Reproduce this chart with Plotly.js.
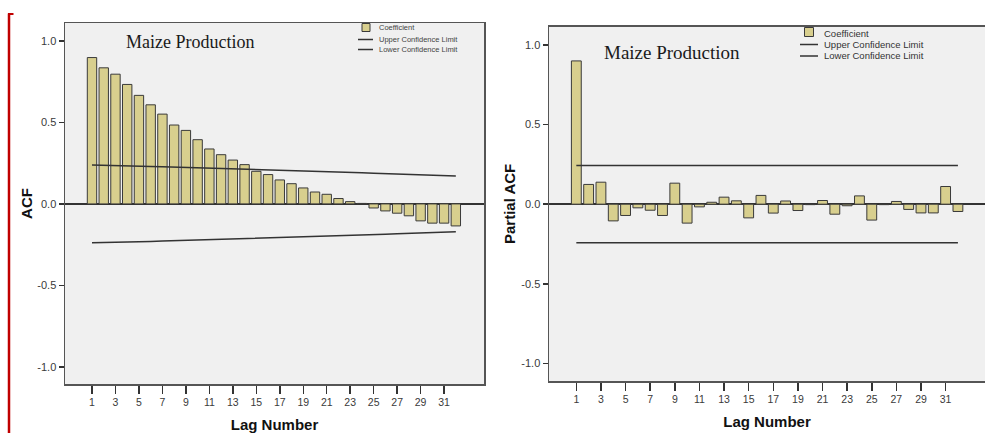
<!DOCTYPE html>
<html>
<head>
<meta charset="utf-8">
<script src="https://cdn.plot.ly/plotly-3.0.1.min.js"></script>
<style>
  html, body { margin: 0; padding: 0; background: #ffffff; }
  #chart { width: 985px; height: 433px; }
</style>
</head>
<body>
<div id="chart"></div>
<script>
// ---- Data ----
const lags = [1,2,3,4,5,6,7,8,9,10,11,12,13,14,15,16,17,18,19,20,21,22,23,24,25,26,27,28,29,30,31,32];
const lagTicks = [1,3,5,7,9,11,13,15,17,19,21,23,25,27,29,31];
const yTicks = [-1.0,-0.5,0.0,0.5,1.0];
const yTickLabels = ['-1.0','-0.5','0.0','0.5','1.0'];

const acf = [0.898,0.835,0.796,0.733,0.666,0.608,0.551,0.484,0.451,0.394,0.337,0.302,0.269,0.241,0.200,0.180,
             0.147,0.124,0.098,0.073,0.059,0.033,0.014,0.003,-0.025,-0.043,-0.057,-0.073,-0.104,-0.118,-0.118,-0.135];
const acfUpper = [0.239,0.238,0.236,0.234,0.232,0.230,0.228,0.226,0.224,0.222,0.220,0.218,0.215,0.213,0.211,0.209,
                  0.207,0.205,0.202,0.200,0.198,0.195,0.193,0.191,0.188,0.186,0.183,0.181,0.178,0.176,0.173,0.171];
const acfLower = [-0.239,-0.238,-0.236,-0.234,-0.232,-0.230,-0.228,-0.226,-0.224,-0.222,-0.220,-0.218,-0.215,-0.213,-0.211,-0.209,
                  -0.207,-0.205,-0.202,-0.200,-0.198,-0.195,-0.193,-0.191,-0.188,-0.186,-0.183,-0.181,-0.178,-0.176,-0.173,-0.171];

const pacf = [0.900,0.124,0.138,-0.105,-0.071,-0.023,-0.038,-0.071,0.132,-0.119,-0.017,0.012,0.044,0.021,-0.086,0.055,
              -0.056,0.020,-0.040,-0.003,0.023,-0.063,-0.010,0.052,-0.100,-0.003,0.017,-0.033,-0.055,-0.055,0.111,-0.046];
const pacfUpper = [0.243,0.243,0.243,0.243,0.243,0.243,0.243,0.243,0.243,0.243,0.243,0.243,0.243,0.243,0.243,0.243,
                   0.243,0.243,0.243,0.243,0.243,0.243,0.243,0.243,0.243,0.243,0.243,0.243,0.243,0.243,0.243,0.243];
const pacfLower = [-0.243,-0.243,-0.243,-0.243,-0.243,-0.243,-0.243,-0.243,-0.243,-0.243,-0.243,-0.243,-0.243,-0.243,-0.243,-0.243,
                   -0.243,-0.243,-0.243,-0.243,-0.243,-0.243,-0.243,-0.243,-0.243,-0.243,-0.243,-0.243,-0.243,-0.243,-0.243,-0.243];

const chartTitle = "Maize Production";
const legendLabels = ["Coefficient", "Upper Confidence Limit", "Lower Confidence Limit"];

// ---- Styling / layout ----
const W = 985, H = 433;
const px = v => v / W;          // pixel -> paper x
const py = v => 1 - v / H;      // pixel -> paper y

const barColor = '#d8cf8e';
const barLine = '#3a3a3a';
const limColor = '#333333';
const frameColor = '#555555';
const tickFont = {family: 'Arial, Liberation Sans, sans-serif', size: 11, color: '#3a3a3a'};
const titleFont = {family: 'Arial, Liberation Sans, sans-serif', size: 15, color: '#111111', weight: 'bold'};

function barTrace(y, xa, ya, name) {
  return {type: 'bar', x: lags, y: y, xaxis: xa, yaxis: ya, name: name, width: 0.8,
          marker: {color: barColor, line: {color: barLine, width: 1}}, showlegend: false,
          hovertemplate: 'Lag %{x}: %{y:.3f}<extra></extra>'};
}
function limTrace(y, xa, ya, name) {
  return {type: 'scatter', mode: 'lines', x: lags, y: y, xaxis: xa, yaxis: ya, name: name,
          line: {color: limColor, width: 1.5}, showlegend: false};
}

const data = [
  barTrace(acf, 'x', 'y', legendLabels[0]),
  limTrace(acfUpper, 'x', 'y', legendLabels[1]),
  limTrace(acfLower, 'x', 'y', legendLabels[2]),
  barTrace(pacf, 'x2', 'y2', legendLabels[0]),
  limTrace(pacfUpper, 'x2', 'y2', legendLabels[1]),
  limTrace(pacfLower, 'x2', 'y2', legendLabels[2])
];

function xAxis(domain, range, mirror) {
  return {domain: domain, range: range, tickmode: 'array', tickvals: lagTicks, ticktext: lagTicks.map(String),
          ticks: 'outside', ticklen: 8, tickwidth: 1.5, tickcolor: '#333', tickfont: {...tickFont, size: 10.5},
          showline: true, mirror: mirror, linecolor: frameColor, linewidth: 1.5,
          showgrid: false, zeroline: false, fixedrange: true,
          title: {text: 'Lag Number', font: titleFont, standoff: 12}};
}
function yAxis(domain, range, mirror, title, standoff) {
  return {domain: domain, range: range, tickmode: 'array', tickvals: yTicks, ticktext: yTickLabels,
          ticks: 'outside', ticklen: 5, tickwidth: 1.5, tickcolor: '#333', tickfont: tickFont,
          showline: true, mirror: mirror, linecolor: frameColor, linewidth: 1.5,
          showgrid: false, zeroline: true, zerolinecolor: '#333', zerolinewidth: 1.5, fixedrange: true,
          title: {text: title, font: titleFont, standoff: standoff}};
}

const legFontL = {family: 'Arial, Liberation Sans, sans-serif', size: 7.5, color: '#444'};
const legFontR = {family: 'Arial, Liberation Sans, sans-serif', size: 9.5, color: '#333'};

function legendBlock(sqX, sqY, sq, lineX0, lineX1, textX, rows, font) {
  const shapes = [
    {type: 'rect', xref: 'paper', yref: 'paper', x0: px(sqX - sq/2), x1: px(sqX + sq/2), y0: py(sqY + sq/2), y1: py(sqY - sq/2),
     fillcolor: barColor, line: {color: barLine, width: 1}},
    {type: 'line', xref: 'paper', yref: 'paper', x0: px(lineX0), x1: px(lineX1), y0: py(rows[1]), y1: py(rows[1]),
     line: {color: limColor, width: 1.5}},
    {type: 'line', xref: 'paper', yref: 'paper', x0: px(lineX0), x1: px(lineX1), y0: py(rows[2]), y1: py(rows[2]),
     line: {color: limColor, width: 1.5}}
  ];
  const anns = legendLabels.map((t, i) => ({
    text: t, xref: 'paper', yref: 'paper', x: px(textX), y: py(rows[i]), xanchor: 'left', yanchor: 'middle',
    showarrow: false, font: font
  }));
  return {shapes, anns};
}

const legL = legendBlock(366, 27.5, 8, 358, 373, 377, [28, 39.5, 49.5], legFontL);
const legR = legendBlock(809, 32, 9, 800, 818, 822, [33, 44.5, 56], legFontR);

const titleAnnFont = {family: '"Liberation Serif", "Times New Roman", serif', size: 18, color: '#1a1a1a'};

const layout = {
  width: W, height: H,
  margin: {l: 0, r: 0, t: 0, b: 0, pad: 0},
  paper_bgcolor: '#ffffff',
  plot_bgcolor: '#f0f0f0',
  showlegend: false,
  bargap: 0.2,
  xaxis: xAxis([px(65), px(484)], [-1.3, 34.4], true),
  yaxis: yAxis([py(384), py(23)], [-1.105, 1.11], true, 'ACF', 1),
  xaxis2: xAxis([px(549), 1], [-1.22, 34.2], true),
  yaxis2: {...yAxis([py(381), py(26.7)], [-1.111, 1.115], false, 'Partial ACF', 2), anchor: 'x2'},
  annotations: [
    {text: chartTitle, xref: 'paper', yref: 'paper', x: px(190), y: py(42), xanchor: 'center', yanchor: 'middle',
     showarrow: false, font: titleAnnFont},
    {text: chartTitle, xref: 'paper', yref: 'paper', x: px(672), y: py(53), xanchor: 'center', yanchor: 'middle',
     showarrow: false, font: {...titleAnnFont, size: 19}},
    ...legL.anns, ...legR.anns
  ],
  shapes: [
    // red bracket on the far left
    {type: 'line', xref: 'paper', yref: 'paper', x0: px(9), x1: px(9), y0: py(13.5), y1: py(433), line: {color: '#c00000', width: 2.5}},
    {type: 'line', xref: 'paper', yref: 'paper', x0: px(8), x1: px(13.5), y0: py(14), y1: py(14), line: {color: '#c00000', width: 2}},
    ...legL.shapes, ...legR.shapes
  ]
};
layout.xaxis2.anchor = 'y2';

Plotly.newPlot('chart', data, layout, {displayModeBar: false, staticPlot: true});
</script>
</body>
</html>
